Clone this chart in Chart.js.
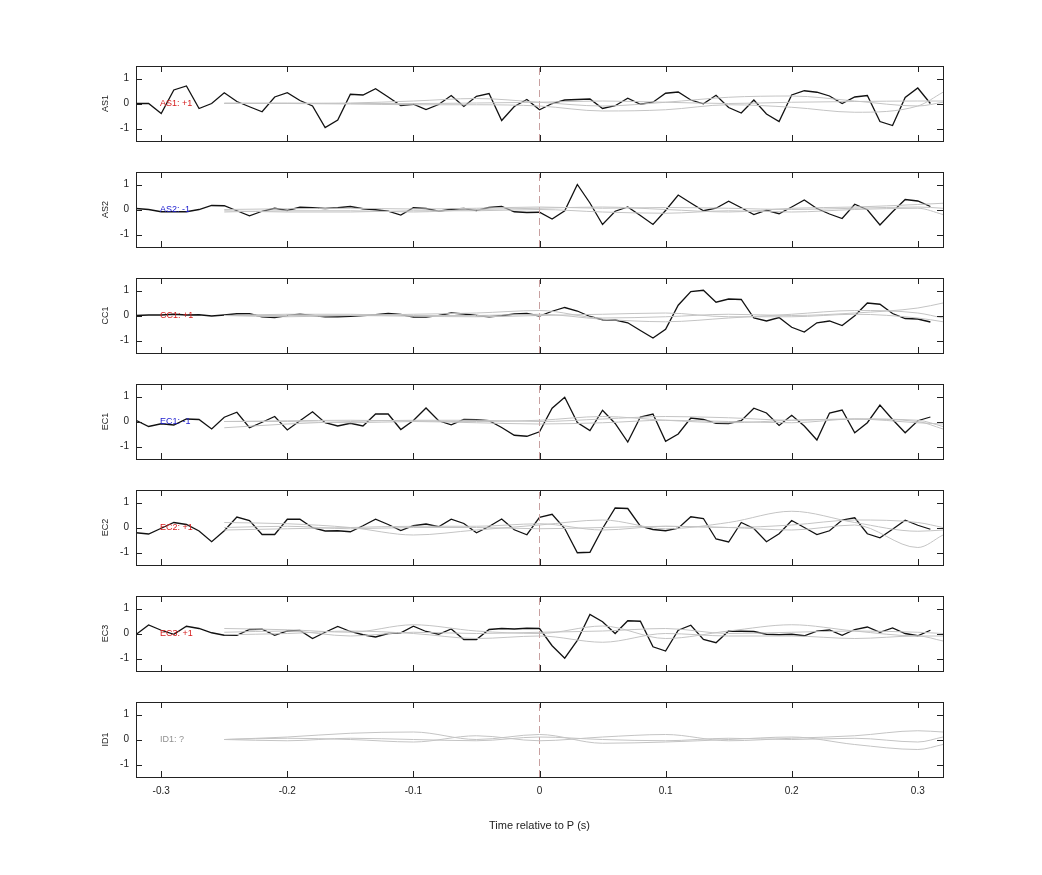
<!DOCTYPE html>
<html><head><meta charset="utf-8">
<script src="https://cdn.jsdelivr.net/npm/chart.js@4"></script>
<style>body{margin:0;background:#fff;width:1042px;height:875px;position:relative;overflow:hidden}canvas{position:absolute;left:0}</style>
</head><body>
<script>
const channels = ["AS1","AS2","CC1","EC1","EC2","EC3","ID1"];
const tags = ["AS1: +1","AS2: -1","CC1: +1","EC1: -1","EC2: +1","EC3: +1","ID1: ?"];
const tagColors = ["#d62020","#2020d0","#d62020","#2020d0","#d62020","#d62020","#909090"];
const xTicks = [-0.3,-0.2,-0.1,0,0.1,0.2,0.3];
const yTicks = [-1,0,1];
const blackStart = -0.32, blackStep = 0.01;
const AS1 = [0,0,-0.4,0.54,0.7,-0.2,0,0.43,0.08,-0.13,-0.33,0.26,0.43,0.12,-0.1,-0.96,-0.66,0.37,0.34,0.59,0.26,-0.08,-0.03,-0.24,-0.04,0.32,-0.12,0.29,0.4,-0.68,-0.12,0.16,-0.25,0,0.14,0.16,0.18,-0.2,-0.09,0.21,-0.03,0.05,0.41,0.46,0.14,-0.01,0.33,-0.16,-0.38,0.14,-0.42,-0.72,0.34,0.51,0.45,0.3,0,0.26,0.32,-0.72,-0.88,0.24,0.62,0];
const AS2 = [0.04,0,-0.09,-0.09,-0.09,0,0.16,0.15,-0.05,-0.25,-0.07,0.05,-0.04,0.09,0.07,0.04,0.07,0.12,0.03,-0.01,-0.07,-0.22,0.07,0.04,-0.07,0.01,0.04,-0.04,0.08,0.12,-0.09,-0.12,-0.11,-0.38,-0.05,1.0,0.26,-0.6,-0.07,0.1,-0.24,-0.6,-0.04,0.58,0.26,-0.05,0.05,0.33,0.07,-0.2,-0.03,-0.17,0.1,0.38,0.04,-0.18,-0.36,0.21,-0.01,-0.62,-0.09,0.4,0.34,0.12];
const CC1 = [0,0.02,0.02,0.05,0.02,0.03,-0.02,0.02,0.07,0.07,-0.05,-0.08,0,0.05,0,-0.05,-0.05,-0.03,0,0.03,0.08,0.04,-0.06,-0.06,0,0.1,0.06,0,-0.05,-0.01,0.06,0.08,-0.02,0.17,0.32,0.18,-0.04,-0.17,-0.18,-0.29,-0.6,-0.9,-0.55,0.41,0.96,1.01,0.53,0.66,0.64,-0.1,-0.22,-0.08,-0.47,-0.66,-0.29,-0.22,-0.4,-0.01,0.5,0.45,0.08,-0.12,-0.14,-0.26];
const EC1 = [0.05,-0.2,-0.09,-0.14,0.1,0.08,-0.3,0.17,0.37,-0.25,-0.03,0.2,-0.34,0.03,0.39,-0.05,-0.18,-0.07,-0.18,0.3,0.3,-0.32,0.04,0.54,0.03,-0.13,0.08,0.07,0.03,-0.24,-0.55,-0.59,-0.41,0.53,0.97,-0.04,-0.36,0.45,-0.08,-0.82,0.18,0.3,-0.79,-0.5,0.14,0.08,-0.07,-0.08,0.03,0.53,0.34,-0.16,0.25,-0.18,-0.74,0.34,0.46,-0.45,-0.05,0.66,0.08,-0.45,0.03,0.18];
const EC2 = [-0.21,-0.26,-0.03,0.2,0.12,-0.14,-0.57,-0.13,0.42,0.28,-0.28,-0.28,0.33,0.33,-0.01,-0.14,-0.13,-0.17,0.07,0.33,0.12,-0.12,0.07,0.14,0.03,0.33,0.16,-0.21,0.04,0.34,-0.09,-0.29,0.41,0.53,-0.04,-1.01,-0.99,-0.04,0.78,0.76,0.05,-0.08,-0.13,-0.03,0.43,0.36,-0.46,-0.58,0.2,-0.04,-0.57,-0.25,0.28,0,-0.28,-0.13,0.3,0.39,-0.25,-0.41,-0.07,0.29,0.09,-0.07];
const EC3 = [-0.04,0.34,0.13,-0.03,0.29,0.2,0.03,-0.07,-0.07,0.16,0.17,-0.07,0.1,0.12,-0.2,0.05,0.28,0.08,-0.05,-0.14,0,0.03,0.29,0.08,-0.03,0.18,-0.24,-0.24,0.16,0.2,0.18,0.21,0.2,-0.49,-0.99,-0.28,0.76,0.47,0,0.51,0.49,-0.53,-0.7,0.13,0.33,-0.24,-0.37,0.1,0.09,0.08,-0.03,-0.05,-0.03,-0.09,0.09,0.14,-0.07,0.16,0.26,0.05,0.22,0,-0.09,0.13];
const ID1 = null;
const greyTimes = [-0.25,-0.2,-0.15,-0.1,-0.05,0,0.05,0.1,0.15,0.2,0.25,0.3,0.32];
const greyAS1 = [[0,0,0.02,0.1,0.2,0.05,-0.1,0.05,0.25,0.3,0.1,-0.1,0.05],[0.02,0,-0.02,-0.05,-0.05,-0.1,-0.3,-0.25,-0.05,-0.15,-0.35,-0.1,0.45],[0,0.02,0,0,0.02,0.05,0.1,0.05,0,0.05,0.08,0.1,0.1]];
const greyAS2 = [[-0.1,-0.05,-0.05,-0.1,0,0.05,0.1,0,-0.1,0.05,0.1,0.2,0.25],[-0.05,-0.1,-0.1,-0.05,-0.05,0,-0.1,-0.15,-0.05,-0.1,0,0.05,-0.2],[0,0.03,0.05,0.02,0.05,0.1,0.05,0.08,0.05,0,0.05,0.1,0.05]];
const greyCC1 = [[0,-0.05,0,0.05,0.1,0.2,-0.1,-0.05,0.05,0,0.1,0.3,0.5],[0,0.05,0.05,0,0,0.05,-0.15,-0.25,-0.1,0.05,0.2,0.1,-0.1],[0,0,0,-0.03,-0.05,0,0.05,0.1,-0.05,-0.05,0.05,-0.1,-0.25]];
const greyEC1 = [[-0.25,-0.1,0,0.05,0.05,0,0.1,0.2,0.15,0.05,0.1,0.05,-0.2],[0,0,-0.05,0,-0.05,-0.1,-0.05,0.05,0,-0.05,0.1,0,-0.3],[0,0.03,0.05,0.02,0,0.05,0.2,0.05,-0.05,0.05,0.1,-0.05,-0.1]];
const greyEC2 = [[0.2,0.15,0,-0.3,-0.1,0.1,0.3,-0.05,0.2,0.65,0.2,-0.15,-0.1],[-0.1,-0.05,0,0.05,0.05,0.15,-0.1,0.05,0,-0.1,0.1,-0.8,-0.3],[0,0.05,-0.05,0,0,-0.05,0,0.05,0,0.1,0.3,0.2,0]];
const greyEC3 = [[0.2,0.15,0.05,0.35,0.1,0,0.3,-0.2,0.1,0.35,0.1,-0.1,-0.1],[-0.05,0,0.1,0,-0.2,-0.1,-0.35,0,-0.1,-0.1,-0.2,-0.1,-0.3],[0.05,0.1,-0.1,0.05,0,0.05,0.1,0.2,0,0.05,0.1,0.05,0]];
const greyID1 = [[0,0.1,0.25,0.3,0,0.2,-0.15,-0.1,0,0.1,-0.2,-0.4,-0.2],[0,0.05,0,-0.1,0.15,-0.05,0.1,0.2,-0.05,0.05,0.15,0.35,0.3],[0,-0.05,0.05,0,-0.05,0.1,0,-0.05,0.05,0,0.05,-0.1,0.1]];
const blacks = [AS1,AS2,CC1,EC1,EC2,EC3,ID1];
const greys = [greyAS1,greyAS2,greyCC1,greyEC1,greyEC2,greyEC3,greyID1];

const FONT = "'Liberation Sans', Arial, sans-serif";
const panelTops = [66,172,278,384,490,596,702];
const PH = 75;

channels.forEach((ch, k) => {
  const last = k === channels.length - 1;
  const c = document.createElement('canvas');
  const topOff = 20;
  const h = last ? topOff + PH + 60 : topOff + PH + 20;
  c.style.top = (panelTops[k] - topOff) + 'px';
  c.style.width = '1042px'; c.style.height = h + 'px';
  c.width = 1042; c.height = h;
  document.body.appendChild(c);
  const ds = [];
  greys[k].forEach(g => ds.push({data: g.map((v,i)=>({x:greyTimes[i], y:v})), borderColor:'#c4c4c4', borderWidth:1, pointRadius:0, cubicInterpolationMode:'monotone'}));
  ds.push({data:[{x:0,y:-1.5},{x:0,y:1.5}], borderColor:'#c8a0a0', borderWidth:1, borderDash:[7,4], pointRadius:0});
  if (blacks[k]) ds.push({data: blacks[k].map((v,i)=>({x:+(blackStart+i*blackStep).toFixed(2), y:v})), borderColor:'#111', borderWidth:1.3, pointRadius:0, tension:0});
  new Chart(c, {
    type:'line',
    data:{datasets:ds},
    options:{
      responsive:false, animation:false, devicePixelRatio:1,
      layout:{padding:{left:0,right:99,top:0,bottom:0}},
      plugins:{legend:{display:false},tooltip:{enabled:false}},
      scales:{
        x:{type:'linear',min:-0.32,max:0.32,display:last,
           afterBuildTicks:s=>{s.ticks=xTicks.map(v=>({value:v}));},
           afterFit:s=>{if(last) s.height=60;},
           grid:{display:false,drawTicks:false}, border:{display:false},
           ticks:{padding:8,color:'#222',font:{family:FONT,size:10},callback:v=>String(v)},
           title:{display:true,text:'Time relative to P (s)',color:'#222',font:{family:FONT,size:11},padding:{top:8}}},
        y:{min:-1.5,max:1.5,
           afterBuildTicks:s=>{s.ticks=yTicks.map(v=>({value:v}));},
           afterFit:s=>{s.width=136;},
           grid:{display:false,drawTicks:false}, border:{display:false},
           ticks:{padding:7,color:'#222',font:{family:FONT,size:10}}}
      }
    },
    plugins:[{id:'fixArea',afterLayout(chart){
      // force fixed panel position inside canvas
      const a = chart.chartArea; a.top = topOff; a.bottom = topOff + PH;
      const y = chart.scales.y; y.top = a.top; y.bottom = a.bottom; y.height = PH; y.configure();
      if (last){ const x = chart.scales.x; const d = a.bottom - x.top; x.top += d; x.bottom += d; }
    }},{id:'frame',afterDatasetsDraw(chart){
      const {ctx,chartArea:a,scales:{x,y}} = chart;
      ctx.save();
      ctx.strokeStyle='#222'; ctx.lineWidth=1;
      ctx.strokeRect(a.left+0.5,a.top+0.5,a.right-a.left,a.bottom-a.top);
      ctx.beginPath();
      xTicks.forEach(v=>{const px=Math.round(x.getPixelForValue(v))+0.5; ctx.moveTo(px,a.top); ctx.lineTo(px,a.top+6); ctx.moveTo(px,a.bottom); ctx.lineTo(px,a.bottom-6);});
      yTicks.forEach(v=>{const py=Math.round(y.getPixelForValue(v))+0.5; ctx.moveTo(a.left,py); ctx.lineTo(a.left+6,py); ctx.moveTo(a.right,py); ctx.lineTo(a.right-6,py);});
      ctx.stroke();
      ctx.font='9px '+FONT; ctx.fillStyle=tagColors[k]; ctx.textBaseline='middle'; ctx.textAlign='left';
      ctx.fillText(tags[k], x.getPixelForValue(-0.301), y.getPixelForValue(0));
      ctx.fillStyle='#222'; ctx.translate(106,(a.top+a.bottom)/2); ctx.rotate(-Math.PI/2); ctx.textAlign='center';
      ctx.fillText(ch,0,0);
      ctx.restore();
    }}]
  });
});
</script>
</body></html>
